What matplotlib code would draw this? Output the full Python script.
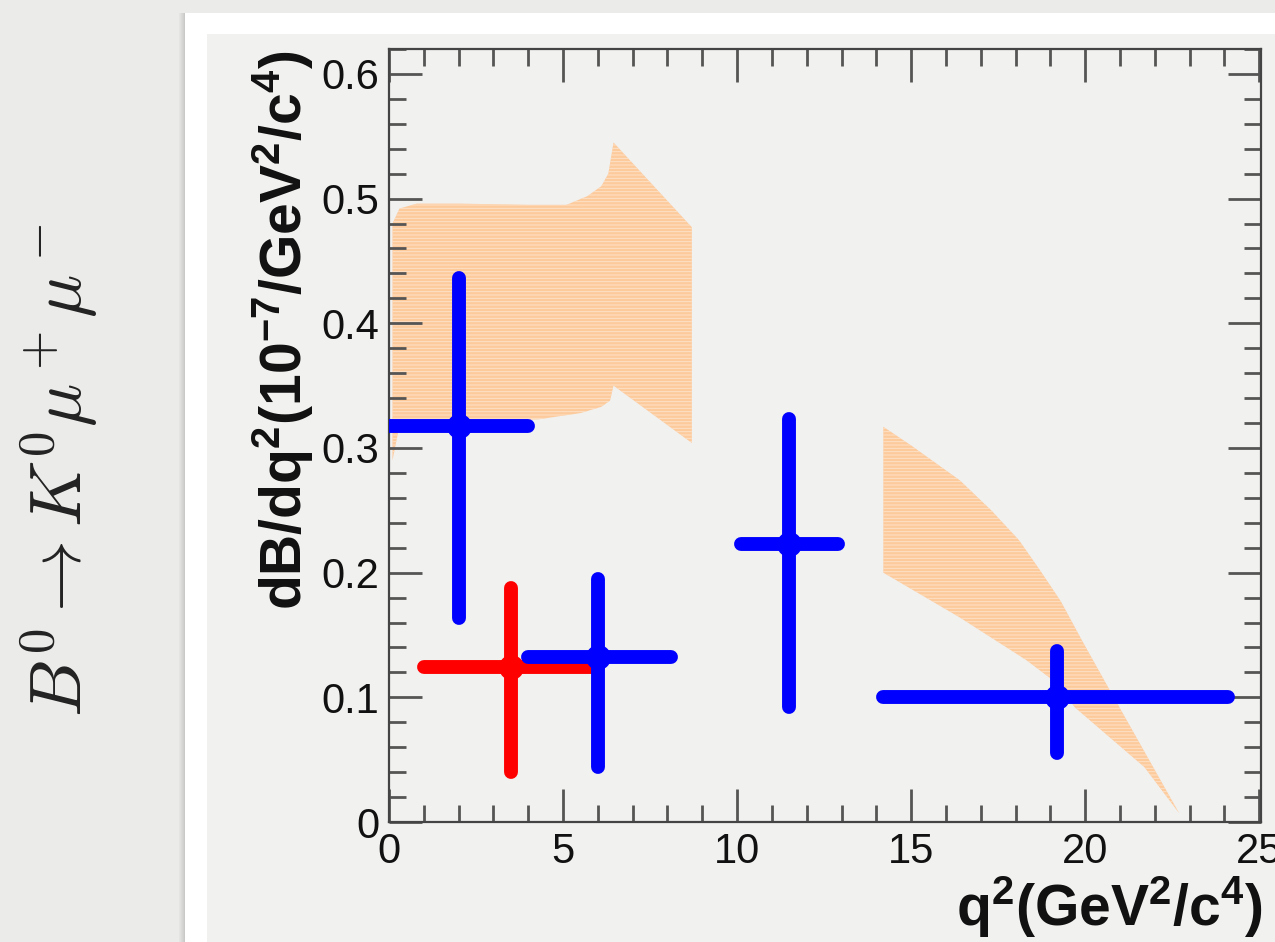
import matplotlib
matplotlib.use("Agg")
import matplotlib.pyplot as plt
from matplotlib.patches import Rectangle
from matplotlib.ticker import MultipleLocator, FuncFormatter
import numpy as np

plt.rcParams['font.family'] = ['Liberation Sans', 'DejaVu Sans']
plt.rcParams['mathtext.fontset'] = 'custom'
plt.rcParams['mathtext.rm'] = 'Liberation Sans'
plt.rcParams['mathtext.bf'] = 'Liberation Sans:bold'
plt.rcParams['mathtext.it'] = 'Liberation Sans:italic'
plt.rcParams['hatch.linewidth'] = 0.7

W, H = 1275, 942

# blue measurements: bin centre, bin edges, value, error band
blue_q2 = [2.0, 6.0, 11.5, 19.2]
blue_lo = [0.0, 4.0, 10.1, 14.2]
blue_hi = [4.0, 8.1, 12.9, 24.1]
blue_dB = [0.318, 0.132, 0.223, 0.100]
blue_dn = [0.164, 0.044, 0.092, 0.055]
blue_up = [0.436, 0.195, 0.323, 0.137]

# red measurement
red_q2 = [3.5]
red_lo = [1.0]
red_hi = [6.0]
red_dB = [0.124]
red_dn = [0.040]
red_up = [0.188]

# theory band, low q2 region
band1_top_x = [0.1, 0.3, 0.8, 2.0, 4.0, 5.1, 5.7, 6.1, 6.3, 6.45, 8.7]
band1_top_y = [0.480, 0.492, 0.496, 0.496, 0.495, 0.495, 0.502, 0.510, 0.520, 0.545, 0.477]
band1_bot_x = [0.1, 0.3, 1.0, 3.0, 4.3, 5.5, 6.1, 6.35, 6.45, 8.7]
band1_bot_y = [0.290, 0.318, 0.322, 0.322, 0.323, 0.328, 0.333, 0.338, 0.350, 0.304]

# theory band, high q2 region
band2_top_x = [14.2, 15.0, 16.4, 17.3, 18.1, 18.7, 19.3, 19.9, 20.7, 22.7]
band2_top_y = [0.317, 0.302, 0.274, 0.250, 0.226, 0.202, 0.177, 0.146, 0.106, 0.007]
band2_bot_x = [14.2, 16.4, 18.3, 19.2, 19.7, 21.7, 22.7]
band2_bot_y = [0.200, 0.164, 0.130, 0.111, 0.092, 0.044, 0.007]

fig = plt.figure(figsize=(W / 100, H / 100), dpi=100)
fig.patch.set_facecolor('#ebebe9')

# slide card with a soft shadow on its left edge (kept behind the axes)
for i, a in enumerate([0.05, 0.08, 0.12, 0.16, 0.2, 0.25]):
    fig.add_artist(Rectangle(((179 + i) / W, 0), 1 / W, (H - 13) / H, transform=fig.transFigure,
                             color='#666666', alpha=a, lw=0, zorder=-10))
fig.add_artist(Rectangle((185 / W, 0), 1, (H - 13) / H, transform=fig.transFigure,
                         facecolor='white', lw=0, zorder=-9))
fig.add_artist(Rectangle((207 / W, 0), 1, (H - 34) / H, transform=fig.transFigure,
                         facecolor='#f1f1ef', lw=0, zorder=-8))

ax = fig.add_axes([389 / W, (H - 822) / H, 872 / W, (822 - 49) / H])
ax.set_facecolor('none')

band_kw = dict(facecolor='#fdca9c', hatch='-----', edgecolor='#fde2c8', lw=0, zorder=1)
ax.fill(np.concatenate([band1_top_x, band1_bot_x[::-1]]),
        np.concatenate([band1_top_y, band1_bot_y[::-1]]), **band_kw)
ax.fill(np.concatenate([band2_top_x, band2_bot_x[::-1]]),
        np.concatenate([band2_top_y, band2_bot_y[::-1]]), **band_kw)


def draw_points(x, lo, hi, y, dn, up, color):
    x = np.array(x); y = np.array(y)
    xerr = [x - np.array(lo), np.array(hi) - x]
    yerr = [y - np.array(dn), np.array(up) - y]
    c = ax.errorbar(x, y, xerr=xerr, yerr=yerr, fmt='o', color=color, ms=17,
                    elinewidth=10, capsize=0, zorder=3)
    for lc in c.lines[2]:
        lc.set_capstyle('round')


draw_points(red_q2, red_lo, red_hi, red_dB, red_dn, red_up, '#ff0000')
draw_points(blue_q2, blue_lo, blue_hi, blue_dB, blue_dn, blue_up, '#0000ff')

ax.set_xlim(0, 25.05)
ax.set_ylim(0, 0.62)
ax.xaxis.set_major_locator(MultipleLocator(5))
ax.xaxis.set_minor_locator(MultipleLocator(1))
ax.yaxis.set_major_locator(MultipleLocator(0.1))
ax.yaxis.set_minor_locator(MultipleLocator(0.02))
ax.xaxis.set_major_formatter(FuncFormatter(lambda v, p: f'{v:g}'))
ax.yaxis.set_major_formatter(FuncFormatter(lambda v, p: '0' if abs(v) < 1e-9 else f'{v:.1f}'))

ax.tick_params(which='both', direction='in', top=True, right=True, color='#555555',
               width=2, labelsize=30, labelcolor='#111111')
ax.tick_params(which='major', length=24)
ax.tick_params(which='minor', length=12)
ax.tick_params(axis='y', which='major', pad=7)
ax.tick_params(axis='x', which='major', pad=7)
for s in ax.spines.values():
    s.set_color('#444444')
    s.set_linewidth(1.6)

fig.text(283 / W, 1 - 50 / H, r'$\mathbf{dB/dq^{2}(10^{-7}/GeV^{2}/c^{4})}$',
         rotation=90, ha='center', va='top', fontsize=41, color='#111111')
fig.text(1262 / W, 1 - 907 / H, r'$\mathbf{q^{2}(GeV^{2}/c^{4})}$',
         ha='right', va='center', fontsize=41, color='#111111')

fig.text(59 / W, 1 - 470 / H, r'$B^0\to K^0\mu^+\mu^-$', rotation=90,
         ha='center', va='center', fontsize=52, math_fontfamily='cm', color='#222222')

fig.savefig('out.png', dpi=100, facecolor=fig.get_facecolor())
